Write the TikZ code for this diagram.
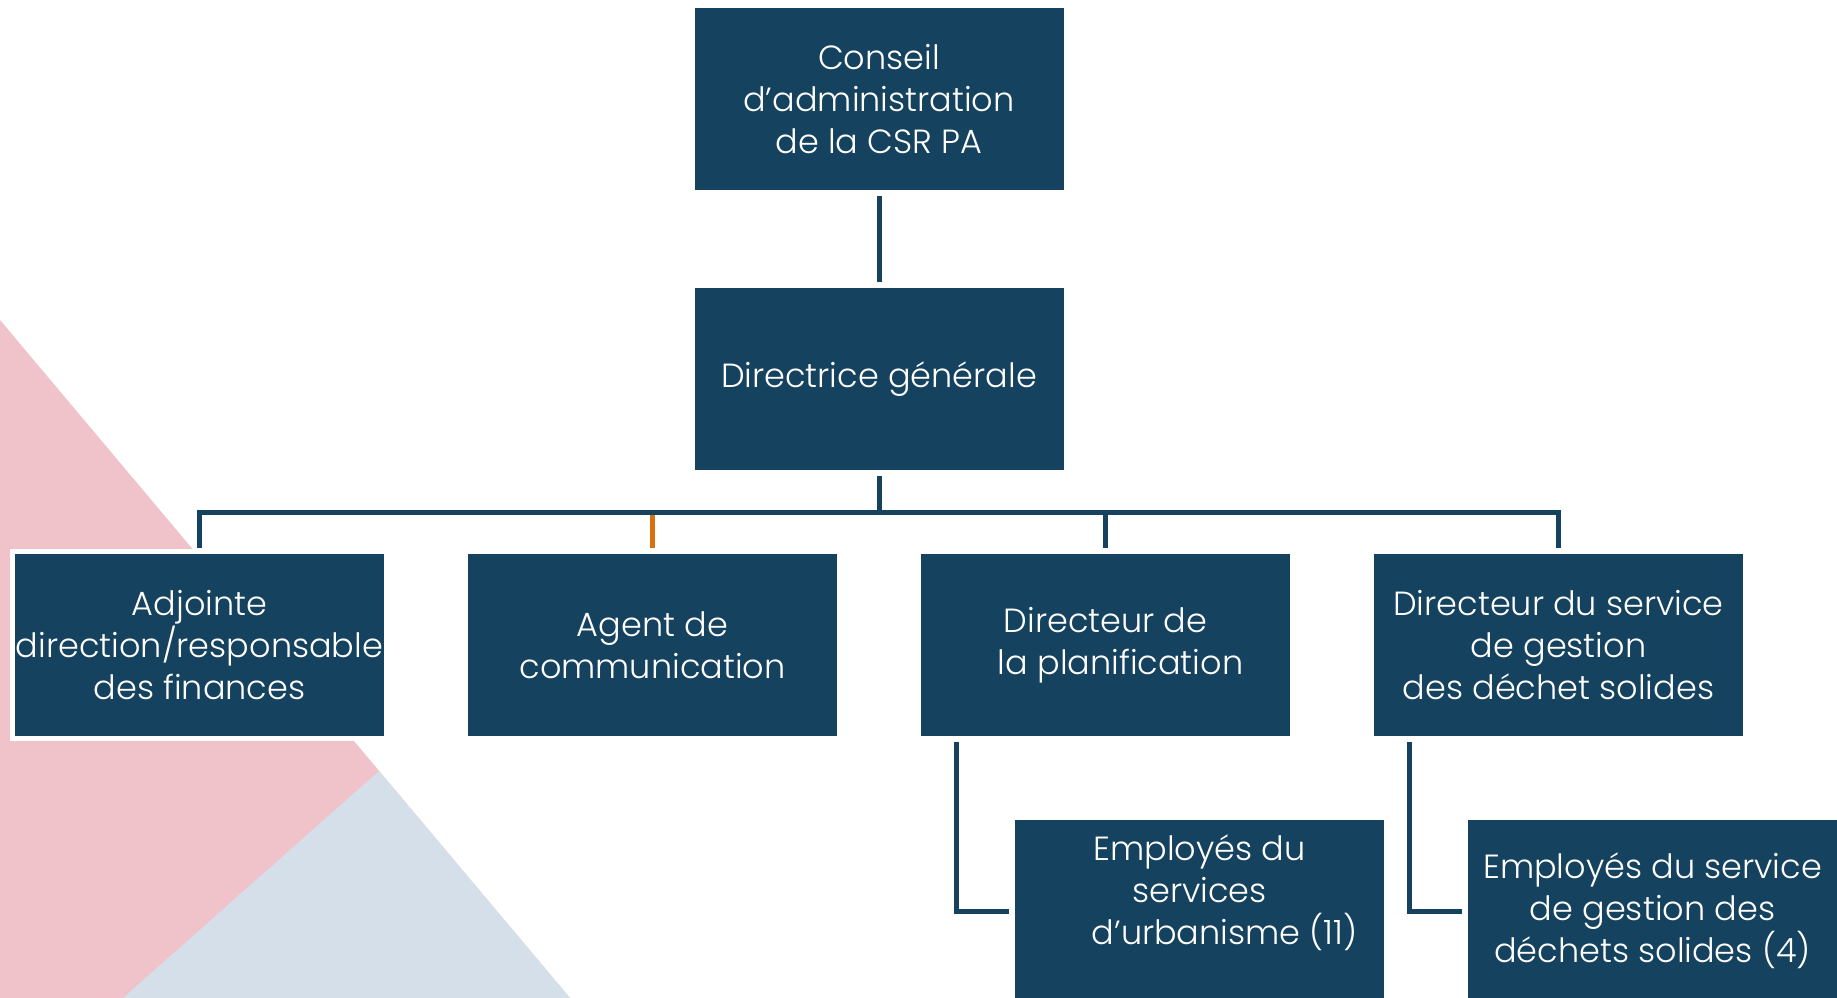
\documentclass[tikz,border=0pt]{standalone}
\usepackage{xcolor}
\usepackage{fontspec}
\setmainfont{Poppins}[UprightFont={* Light}]
\usepackage{tikz}
\usetikzlibrary{positioning}
\definecolor{navy}{RGB}{21,66,94}
\definecolor{rose}{RGB}{240,194,202}
\definecolor{mist}{RGB}{213,223,234}
\definecolor{rust}{RGB}{217,112,15}
\tikzstyle{box}=[fill=navy,text=white,minimum width=369pt,minimum height=182pt,inner sep=0pt,outer sep=0pt,align=center,font=\fontsize{33.5}{42}\selectfont]
\tikzstyle{link}=[draw=navy,line width=5pt,shorten <=6pt,shorten >=6pt]
\tikzstyle{accent}=[draw=rust,line width=5pt]
\begin{document}
\begin{tikzpicture}[x=1pt,y=-1pt,node distance=84pt]
	\useasboundingbox (0,0) rectangle (1837,998);
	\fill[rose] (0,320) -- (570,998) -- (0,998) -- cycle;
	\fill[mist] (379,771) -- (570,998) -- (123,998) -- cycle;
	\node[box] (board) at (879,99) {Conseil\\d’administration\\de la CSR PA};
	\node[box,below=98pt of board] (dg) {Directrice générale};
	\coordinate[below=42pt of dg.south] (bar);
	\node[box,below left=84pt and 42pt of dg.south] (com) {Agent de\\communication};
	\node[box,left=of com] (fin) {Adjointe\\direction/responsable\\des finances};
	\node[box,below right=84pt and 42pt of dg.south] (plan) {Directeur de\\\hspace*{0.9em}la planification};
	\node[box,right=of plan] (dss) {Directeur du service\\de gestion\\des déchet solides};
	\node[box,below right=84pt and 94pt of plan.south west] (urb) {Employés du\\services\\\hspace*{1.5em}d’urbanisme (11)\\~};
	\node[box,below right=84pt and 94pt of dss.south west] (emp) {Employés du service\\de gestion des\\déchets solides (4)};
	\draw[white,line width=5pt] ([shift={(-2.5pt,2.5pt)}]fin.north west) rectangle ([shift={(2.5pt,-2.5pt)}]fin.south east);
	\draw[link] (board) -- (dg);
	\draw[accent,shorten >=6pt] (bar -| com.north) -- (com.north);
	\draw[link,shorten >=0pt] (dg) -- (bar);
	\draw[link] (fin.north) |- (bar) -| (dss.north);
	\draw[link,shorten <=0pt] (bar -| plan.north) -- (plan.north);
	\draw[link] ([xshift=35pt]plan.south west) |- (urb.west);
	\draw[link] ([xshift=35pt]dss.south west) |- (emp.west);
\end{tikzpicture}
\end{document}
